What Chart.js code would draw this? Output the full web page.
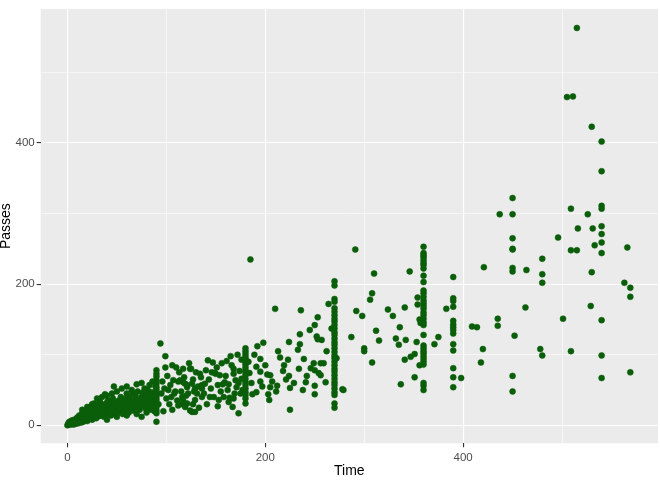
<!DOCTYPE html>
<html>
<head>
<meta charset="utf-8">
<script src="https://cdn.jsdelivr.net/npm/chart.js@4.4.0/dist/chart.umd.min.js"></script>
<style>
  html, body { margin: 0; padding: 0; background: #ffffff; }
</style>
</head>
<body>
<canvas id="chart" width="660" height="480"></canvas>
<script>
// scattered points, [time, passes]
const nearOrigin = [
  [0,0],[1,1],[1,3],[2,2],[2,5],[3,1],[3,4],[4,2],[4,6],[5,3],[5,7],[6,1],[6,5],[7,4],[7,8],
  [8,2],[8,6],[9,9],[9,3],[10,5],[10,11],[11,7],[11,3],[12,9],[12,14],[13,6],[13,10],[14,4],
  [14,12],[15,8],[15,17],[15,22],[16,10],[16,5],[17,13],[17,20],[18,8],[18,15],[19,11],[20,18],
  [20,6],[20,26],[21,13],[21,23],[22,9],[22,16],[23,20],[24,12],[24,27],[25,17],[25,8],[25,30],
  [26,22],[27,14],[27,31],[28,19],[29,10],[29,25],[30,16],[30,21],[30,38],[31,28],[32,13],[32,19],
  [33,33],[33,24],[34,15],[35,22],[35,29],[35,40],[36,18],[37,12],[37,26],[38,44],[38,20],[39,31],
  [40,23],[40,16],[40,8],[40,42],[41,35],[42,27],[42,19],[43,21],[44,30],[44,14],[45,25],[45,45],
  [46,38],[46,18],[47,55],[47,33],[48,22],[48,28],[49,15],[50,31],[50,20],[50,12],[50,48],[51,26],
  [52,35],[52,18],[53,24],[53,31],[54,40],[55,22],[55,29],[55,52],[56,16],[57,34],[57,25],[58,20],
  [59,38],[60,28],[60,45],[60,14],[60,55],[61,23],[62,33],[62,18],[63,33],[63,40],[64,26],[65,30],
  [65,50],[66,45],[66,21],[67,35],[68,28],[69,41],[70,25],[70,32],[70,16],[70,58],[71,48],[72,36],
  [73,22],[74,30],[75,60],[75,40],[75,12],[76,46],[76,27],[77,34],[78,38],[78,52],[79,24],[80,44],
  [80,31],[80,18],[81,50],[82,28],[82,36],[83,40],[83,57],[84,22],[85,33],[85,47],[86,38],[86,62],
  [87,30],[88,42],[88,26],[88,20],[89,35],[89,55],[94,116],[99,98],[99,82]
];

const midRange = [
  [92,30],[95,45],[96,62],[97,20],[98,52],[100,38],[101,70],[102,50],[103,30],[104,57],[105,40],
  [106,22],[106,85],[107,64],[108,45],[109,48],[110,82],[111,35],[112,28],[112,62],[113,75],
  [114,64],[115,48],[116,40],[116,30],[117,80],[117,61],[117,35],[118,68],[119,26],[119,59],
  [120,42],[121,54],[121,57],[121,31],[122,45],[123,88],[124,80],[124,21],[125,80],[126,59],
  [126,19],[127,30],[127,65],[128,48],[129,52],[129,19],[129,36],[130,75],[131,45],[132,55],
  [133,25],[134,73],[135,68],[136,57],[136,52],[136,40],[138,45],[139,59],[140,78],[141,30],
  [142,92],[143,65],[144,40],[145,52],[146,75],[147,89],[148,40],[149,74],[150,73],[151,82],
  [152,57],[152,27],[153,36],[154,71],[155,48],[156,88],[157,58],[158,40],[159,61],[160,70],
  [161,91],[162,50],[163,58],[163,33],[164,39],[165,98],[166,85],[167,26],[168,38],[168,80],
  [168,73],[169,45],[170,64],[171,54],[172,100],[173,60],[173,17],[174,77],[175,45],[176,66],
  [176,93],[177,50],[183,90],[184,74],[186,60],[185,235],[187,44],[189,100],[191,83],[191,47],
  [192,112],[195,94],[195,76],[195,62],[197,55],[198,117],[200,85],[202,72],[205,71],[203,44],
  [204,36],[205,54],[207,62],[210,165],[211,48],[212,56],[213,105],[215,96],[218,77],[219,85],
  [221,65],[223,93],[224,118],[224,70],[225,53],[225,22],[229,60],[233,107],[234,80],[235,129],
  [235,115],[236,163],[238,50],[239,94],[241,61],[242,70],[245,135],[246,81],[249,88],[250,142],
  [250,78],[250,56],[250,44],[252,126],[253,153],[253,122],[254,74],[256,71],[257,121],[256,88],
  [259,88],[261,61],[262,105],[264,172],[267,137],[272,95],[278,51]
];

const upperRange = [
  [279,50],[287,125],[291,249],[292,162],[298,155],[300,109],[300,105],[306,178],[308,187],
  [308,89],[310,215],[312,134],[315,120],[324,164],[329,155],[332,123],[335,114],[336,139],
  [337,58],[341,167],[341,93],[342,121],[346,218],[347,97],[351,101],[351,68],[353,118],[354,181],
  [354,171],[356,150],[357,145],[356,85],[371,115],[375,125],[383,165],[398,67],[409,140],
  [414,139],[418,89],[420,108],[421,224],[435,151],[435,141],[437,299],[452,127],[463,167],
  [464,220],[478,108],[496,266],[501,151],[505,465],[509,307],[509,248],[509,105],[511,466],
  [515,563],[515,248],[516,279],[526,299],[529,169],[530,423],[530,217],[531,279],[533,255],
  [563,202],[566,252],[569,195],[569,182],[569,75]
];

// repeated-time columns
const columnTimes = [90, 180, 270, 360, 390, 450, 480, 540];
const columnPasses = [
  [78,73,69,64,59,54,50,45,40,36,31,26,21,17,5],
  [109,105,101,97,94,90,86,82,78,75,71,66,61,57,52,47,43,38,31],
  [204,198,179,175,166,161,156,151,147,142,137,132,128,123,118,114,109,104,99,95,90,85,80,76,
   71,66,61,57,52,47,43,31,25],
  [253,244,241,238,234,230,227,222,212,203,191,187,182,177,173,169,165,160,156,151,146,142,128,
   113,109,105,102,98,94,90,86,60,56,50],
  [210,180,176,168,148,143,139,135,130,115,106,81,68,54],
  [322,299,265,250,249,223,218,70,48],
  [236,214,202,99],
  [402,360,311,307,282,271,259,244,149,99,67]
];

const xGridValues = [0, 100, 200, 300, 400, 500];
const yGridValues = [0, 100, 200, 300, 400, 500];

const points = [];
nearOrigin.concat(midRange, upperRange).forEach(p => points.push({ x: p[0], y: p[1] }));
columnTimes.forEach((t, i) => {
  columnPasses[i].forEach(v => points.push({ x: t, y: v }));
});

const panelBg = {
  id: 'panelBg',
  beforeDraw(chart) {
    const a = chart.chartArea;
    const c = chart.ctx;
    c.save();
    c.fillStyle = '#EBEBEB';
    c.fillRect(a.left, a.top, a.right - a.left, a.bottom - a.top);
    c.restore();
  }
};

const isMajor = v => v % 200 === 0;
const tickFont = { family: 'Liberation Sans, Arial, sans-serif', size: 11.5 };
const titleFont = { family: 'Liberation Sans, Arial, sans-serif', size: 14 };

new Chart(document.getElementById('chart'), {
  type: 'scatter',
  data: {
    datasets: [{
      data: points,
      backgroundColor: '#0a5e0a',
      borderColor: '#0a5e0a',
      borderWidth: 0.5,
      pointRadius: 3,
      pointHoverRadius: 3
    }]
  },
  plugins: [panelBg],
  options: {
    responsive: false,
    animation: false,
    events: [],
    layout: { autoPadding: false, padding: { top: 8.3, right: 2, left: 0, bottom: 0 } },
    plugins: { legend: { display: false }, tooltip: { enabled: false } },
    scales: {
      x: {
        type: 'linear',
        position: 'bottom',
        min: -27,
        max: 597,
        afterFit(s) { s.height = 36.7; },
        afterBuildTicks(s) { s.ticks = xGridValues.map(v => ({ value: v })); },
        ticks: {
          callback: v => isMajor(v) ? String(v) : '',
          color: '#4D4D4D',
          font: tickFont,
          padding: 4,
          maxRotation: 0,
          autoSkip: false
        },
        grid: {
          color: '#ffffff',
          lineWidth: c => isMajor(c.tick.value) ? 1.1 : 0.55,
          tickColor: c => isMajor(c.tick.value) ? '#333333' : 'rgba(0,0,0,0)',
          tickLength: 4
        },
        border: { display: false },
        title: { display: true, text: 'Time', color: '#000000', font: titleFont, padding: { top: 0, bottom: 0 } }
      },
      y: {
        type: 'linear',
        min: -25.5,
        max: 590,
        afterFit(s) { s.width = 40.7; },
        afterBuildTicks(s) { s.ticks = yGridValues.map(v => ({ value: v })); },
        ticks: {
          callback: v => isMajor(v) ? String(v) : '',
          color: '#4D4D4D',
          font: tickFont,
          padding: 2,
          autoSkip: false
        },
        grid: {
          color: '#ffffff',
          lineWidth: c => isMajor(c.tick.value) ? 1.1 : 0.55,
          tickColor: c => isMajor(c.tick.value) ? '#333333' : 'rgba(0,0,0,0)',
          tickLength: 4
        },
        border: { display: false },
        title: { display: true, text: 'Passes', color: '#000000', font: titleFont, padding: { top: -2, bottom: 0 } }
      }
    }
  }
});
</script>
</body>
</html>
